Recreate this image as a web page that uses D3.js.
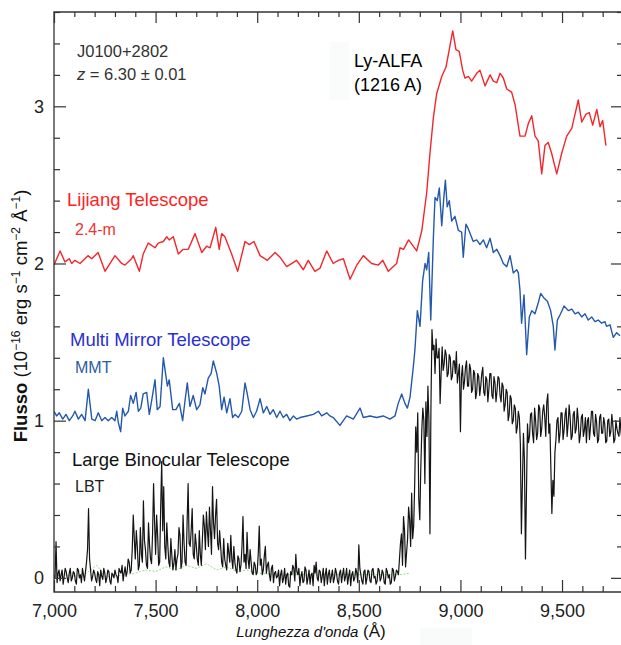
<!DOCTYPE html>
<html>
<head>
<meta charset="utf-8">
<script src="https://cdn.jsdelivr.net/npm/d3@7"></script>
<style>
  html, body { margin: 0; padding: 0; background: #fff; }
  svg { display: block; font-family: "Liberation Sans", Arial, Helvetica, sans-serif; }
</style>
</head>
<body>
<svg id="chart" width="621" height="645"></svg>
<script>
// ---------------- DATA ----------------
const xTickValues = [7000, 7500, 8000, 8500, 9000, 9500];
const xTickLabels = ["7,000", "7,500", "8,000", "8,500", "9,000", "9,500"];
const yTickValues = [0, 1, 2, 3];
const yTickLabels = ["0", "1", "2", "3"];

// Lijiang 2.4-m (red)
const redWave = [7000,7030,7054,7075,7087,7103,7128,7167,7186,7217,7251,7300,7333,7349,7382,7390,7420,7439,7464,7497,
  7513,7538,7555,7567,7587,7612,7636,7661,7694,7727,7751,7768,7796,7813,7825,7841,7874,7904,7940,7961,
  7984,8014,8050,8088,8112,8145,8194,8227,8251,8284,8309,8342,8374,8399,8424,8457,8490,8522,8563,8596,
  8618,8645,8686,8703,8720,8745,8785,8810,8834,8850,8867,8883,8908,8929,8945,8962,8978,8994,9011,9022,
  9039,9055,9080,9096,9121,9146,9162,9179,9195,9211,9228,9252,9269,9293,9318,9334,9351,9367,9383,9400,
  9416,9432,9449,9474,9498,9523,9548,9564,9580,9597,9618,9634,9651,9671,9687,9700,9716];
const redFlux = [1.99,2.08,2.01,2.03,2.00,2.02,2.00,2.05,2.03,2.07,1.95,2.05,2.00,1.99,2.03,2.05,1.95,2.06,2.13,2.10,
  2.13,2.14,2.17,2.15,2.17,2.06,2.09,2.09,2.19,2.07,2.11,2.10,2.23,2.09,2.19,2.17,2.06,1.95,2.14,2.12,
  2.14,2.05,2.02,2.07,2.04,1.98,2.02,1.96,2.02,1.95,1.97,2.08,2.00,2.02,2.03,1.90,1.99,2.05,2.00,1.99,
  2.02,1.95,2.00,2.10,2.09,2.15,2.08,2.21,2.45,2.70,2.93,3.08,3.19,3.25,3.36,3.48,3.36,3.35,3.23,3.18,
  3.19,3.16,3.21,3.23,3.13,3.20,3.16,3.15,3.21,3.18,3.11,3.09,3.01,2.81,2.81,2.89,2.94,2.81,2.78,2.57,
  2.75,2.77,2.70,2.57,2.70,2.81,2.86,2.95,3.04,2.90,2.95,2.96,2.88,2.98,2.87,2.91,2.75];

// MMT (blue)
const blueWave = [7000,7013,7026,7043,7059,7075,7092,7103,7120,7136,7153,7169,7186,7202,7218,7235,7251,7267,7284,7300,
  7309,7316,7328,7338,7349,7366,7377,7390,7404,7415,7427,7439,7456,7469,7481,7497,7508,7522,7538,7558,
  7567,7584,7600,7617,7633,7645,7656,7669,7685,7702,7718,7732,7743,7759,7773,7784,7801,7813,7825,7837,
  7850,7866,7879,7891,7907,7924,7940,7951,7965,7981,7997,8014,8030,8047,8063,8079,8096,8112,8128,8145,
  8161,8178,8194,8211,8244,8276,8301,8317,8342,8358,8374,8407,8440,8473,8506,8522,8555,8588,8620,8653,
  8678,8694,8711,8727,8739,8752,8768,8776,8788,8801,8814,8826,8834,8844,8854,8867,8875,8886,8896,8908,
  8919,8926,8935,8945,8957,8973,8990,9006,9014,9027,9039,9051,9063,9080,9096,9113,9129,9146,9162,9179,
  9195,9211,9228,9244,9260,9277,9285,9293,9301,9313,9326,9339,9351,9367,9383,9395,9411,9428,9444,9457,
  9465,9477,9493,9510,9531,9548,9564,9580,9597,9613,9629,9646,9662,9678,9695,9711,9719,9736,9752,9769,9785];
const blueFlux = [1.06,1.03,1.05,1.01,1.04,1.00,1.03,1.06,1.01,1.04,1.00,1.20,1.01,1.00,1.05,1.00,1.02,1.00,1.02,1.00,
  1.06,0.99,0.93,1.08,1.03,1.06,1.16,1.11,1.18,1.06,1.08,1.17,1.18,1.04,1.13,1.26,1.07,1.09,1.40,1.22,
  1.26,1.07,1.07,1.11,1.00,1.13,1.24,1.09,1.16,1.07,1.10,1.21,1.17,1.27,1.30,1.38,1.30,1.22,1.07,1.15,
  1.05,1.14,1.02,1.04,1.02,1.06,1.24,1.17,1.07,1.02,1.06,1.14,1.05,1.09,1.04,1.07,1.02,1.06,1.02,1.04,
  1.00,1.03,1.01,1.02,1.03,1.04,1.06,1.03,1.05,1.03,1.02,0.97,1.03,1.01,1.08,1.02,1.03,1.02,1.03,1.01,
  1.03,1.11,1.17,1.11,1.08,1.15,1.34,1.45,1.70,1.60,1.89,2.00,1.96,2.07,1.64,2.17,2.42,2.40,2.48,2.24,
  2.43,2.53,2.36,2.40,2.27,2.30,2.21,2.20,2.04,2.25,2.22,2.18,2.14,2.15,2.12,2.15,2.10,2.16,2.07,2.09,
  2.05,2.00,1.98,2.05,1.94,1.96,1.94,1.83,1.62,1.80,1.42,1.66,1.70,1.68,1.75,1.81,1.78,1.76,1.70,1.60,
  1.45,1.64,1.68,1.73,1.70,1.71,1.68,1.69,1.66,1.68,1.64,1.66,1.63,1.64,1.62,1.63,1.60,1.61,1.53,1.56,1.54];

// LBT (black): samples at 7000 + 10*i Å and at 7005 + 10*i Å
const blackStart = 7000;
const blackStep = 10;
const blackFlux = [
  0.02,0.23,0.03,-0.02,0.05,0.01,0.04,-0.03,0.06,0.00,
  0.03,-0.04,0.05,0.02,0.06,-0.02,0.10,0.44,0.05,0.01,
  0.03,-0.03,0.02,0.05,-0.01,0.03,0.00,0.04,-0.04,0.02,
  0.05,0.01,0.06,0.03,-0.02,0.07,0.04,0.10,0.05,0.40,
  0.12,0.20,0.08,0.15,0.49,0.18,0.06,0.21,0.09,0.60,
  0.15,0.27,0.10,0.74,0.58,0.12,0.21,0.07,0.14,0.09,
  0.05,0.15,0.27,0.10,0.22,0.08,0.60,0.20,0.44,0.12,
  0.21,0.08,0.15,0.24,0.33,0.42,0.20,0.30,0.58,0.25,
  0.50,0.18,0.20,0.07,0.12,0.05,0.16,0.27,0.06,0.10,
  0.03,0.12,0.08,0.39,0.15,0.29,0.06,0.10,0.02,0.08,
  0.04,0.33,0.12,0.05,0.20,0.08,0.02,0.06,-0.03,0.04,
  0.01,-0.05,0.05,0.00,-0.04,0.03,-0.06,0.02,0.06,0.15,
  0.02,-0.05,0.04,-0.02,0.05,0.00,-0.04,0.03,0.08,0.10,
  -0.02,0.04,0.01,-0.05,0.06,0.02,-0.03,0.05,0.00,0.03,
  -0.04,0.05,0.02,-0.02,0.06,0.01,-0.05,0.04,0.00,0.03,
  0.21,0.02,-0.04,0.05,0.00,0.04,-0.03,0.06,0.01,-0.02,
  0.05,0.00,0.03,-0.04,0.04,0.02,-0.03,0.05,0.01,0.04,
  0.12,0.28,0.39,0.07,0.25,0.37,0.54,0.33,0.96,1.05,
  0.37,0.94,1.00,1.12,1.22,0.28,1.58,1.48,1.52,1.40,
  1.11,1.47,1.36,1.42,1.30,1.40,1.28,1.38,1.44,1.30,
  0.93,1.35,1.25,1.38,1.22,1.33,1.20,1.30,1.18,1.28,
  1.22,1.34,1.16,1.26,1.20,1.30,1.14,1.24,1.19,1.27,
  1.12,1.22,1.10,1.18,1.04,1.14,1.00,1.08,0.96,1.02,
  0.28,0.92,0.12,0.98,0.90,1.05,0.86,1.00,0.92,1.08,
  0.95,1.10,0.90,1.17,0.98,0.41,0.52,0.88,1.02,0.92,
  1.05,0.94,1.08,0.98,1.02,0.90,1.06,0.95,1.00,0.91,
  1.04,0.94,0.86,1.02,0.96,1.06,0.90,0.99,0.88,1.04,
  0.92,0.98,0.87,1.01,0.93,0.97,0.88,0.95,0.90,0.93];
const blackMidFlux = [
  0.00,-0.03,0.05,0.02,-0.04,0.06,0.00,0.03,-0.02,0.04,
  -0.02,0.06,0.00,-0.03,0.02,0.04,0.18,0.12,-0.02,0.05,
  -0.01,0.04,-0.05,0.01,0.06,-0.03,0.05,-0.02,0.03,0.00,
  0.02,-0.03,0.04,0.08,0.03,0.01,0.12,0.03,0.18,0.25,
  0.30,0.05,0.32,0.10,0.24,0.08,0.35,0.12,0.28,0.35,
  0.40,0.08,0.45,0.30,0.20,0.35,0.10,0.25,0.05,0.18,
  0.12,0.32,0.06,0.40,0.10,0.35,0.22,0.30,0.15,0.28,
  0.12,0.30,0.08,0.40,0.18,0.30,0.45,0.15,0.35,0.40,
  0.22,0.30,0.10,0.25,0.08,0.22,0.10,0.12,0.20,0.05,
  0.14,0.04,0.20,0.10,0.06,0.12,0.18,0.03,0.10,0.02,
  0.15,0.08,0.02,0.14,0.03,0.10,-0.02,0.08,0.03,0.00,
  0.05,0.02,-0.03,0.06,0.02,-0.05,0.04,0.08,-0.02,0.04,
  0.06,0.01,-0.03,0.07,-0.04,0.05,0.02,-0.05,0.03,0.00,
  0.05,-0.03,0.06,0.02,-0.04,0.05,0.01,-0.03,0.06,-0.02,
  0.03,-0.03,0.06,0.01,-0.04,0.05,0.02,-0.02,0.06,-0.03,
  0.06,-0.02,0.04,-0.04,0.05,-0.02,0.05,0.00,-0.04,0.06,
  -0.02,0.05,-0.03,0.06,0.00,-0.04,0.06,-0.02,0.05,0.02,
  0.22,0.08,0.30,0.16,0.45,0.20,0.25,0.60,0.80,0.50,
  0.70,1.08,0.60,0.90,1.00,1.10,1.45,1.30,1.40,1.46,
  1.30,1.32,1.45,1.28,1.42,1.26,1.38,1.30,1.24,1.36,
  1.28,1.20,1.34,1.22,1.36,1.18,1.32,1.14,1.30,1.16,
  1.30,1.18,1.28,1.12,1.30,1.16,1.28,1.12,1.28,1.16,
  1.24,1.06,1.20,1.00,1.16,0.98,1.10,0.92,1.06,0.85,
  0.60,0.75,0.55,0.86,1.04,0.92,1.08,0.88,1.10,0.90,
  1.06,1.02,1.12,0.92,0.70,0.62,0.80,1.00,0.86,1.05,
  0.88,1.04,0.90,1.10,0.88,1.04,0.92,1.08,0.86,1.02,
  0.90,1.02,1.00,0.88,1.06,0.92,1.04,0.86,1.02,0.92,
  1.02,0.86,1.00,0.90,1.04,0.86,1.00,0.92,1.02,0.88];

// LBT error spectrum (green)
const greenWave = [7000,7050,7100,7150,7210,7250,7300,7350,7400,7450,7500,7550,7600,7650,7700,7750,7800,7850,7900,7950,8000,8100,8200,8300,8400,8500,8600,8700,8750];
const greenFlux = [0.01,0.02,0.01,0.02,0.08,0.01,0.01,0.02,0.03,0.05,0.04,0.07,0.05,0.08,0.06,0.09,0.05,0.07,0.04,0.05,0.03,0.02,0.02,0.02,0.02,0.02,0.02,0.02,0.03];

// ---------------- DRAW ----------------
const svg = d3.select("#chart");
const x = d3.scaleLinear().domain([7000, 9800]).range([54, 623]);
const y = d3.scaleLinear().domain([-0.09, 3.6]).range([592, 12]);

// barely visible background patches present in the source image
svg.append("rect").attr("x", 330).attr("y", 42).attr("width", 19).attr("height", 58).attr("fill", "#fafbfb");
svg.append("rect").attr("x", 420).attr("y", 628).attr("width", 52).attr("height", 17).attr("fill", "#f9fafa");

svg.append("clipPath").attr("id", "plotclip").append("rect")
  .attr("x", 54).attr("y", 12).attr("width", 569).attr("height", 580);

const line = d3.line().x(d => x(d[0])).y(d => y(d[1]));
const plot = svg.append("g").attr("clip-path", "url(#plotclip)");

plot.append("path")
  .datum(greenWave.map((w, i) => [w, greenFlux[i]]))
  .attr("d", line).attr("fill", "none").attr("stroke", "#7dd36a")
  .attr("stroke-width", 1).attr("stroke-dasharray", "2,1.5").attr("opacity", 0.8);

const blackPts = [];
blackFlux.forEach((v, i) => {
  blackPts.push([blackStart + i * blackStep, v]);
  if (i < blackMidFlux.length) blackPts.push([blackStart + i * blackStep + blackStep / 2, blackMidFlux[i]]);
});
plot.append("path")
  .datum(blackPts)
  .attr("d", line).attr("fill", "none").attr("stroke", "#141414")
  .attr("stroke-width", 1.2).attr("stroke-linejoin", "round");

plot.append("path")
  .datum(blueWave.map((w, i) => [w, blueFlux[i]]))
  .attr("d", line).attr("fill", "none").attr("stroke", "#2458ad")
  .attr("stroke-width", 1.4).attr("stroke-linejoin", "round");

plot.append("path")
  .datum(redWave.map((w, i) => [w, redFlux[i]]))
  .attr("d", line).attr("fill", "none").attr("stroke", "#f2262b")
  .attr("stroke-width", 1.4).attr("stroke-linejoin", "round");

// axes (ticks pointing inward)
const axisColor = "#333";
const xMinor = d3.range(7000, 9801, 100).filter(v => v % 500 !== 0);
const yMinor = d3.range(0, 3.61, 0.2).map(v => +v.toFixed(1)).filter(v => Math.abs(v - Math.round(v)) > 1e-6);

function styleAxis(g) {
  g.select(".domain").remove();
  g.selectAll("line").attr("stroke", axisColor).attr("stroke-width", 1.2);
  g.selectAll("text").attr("fill", "#222").style("font-size", "18px")
    .style("font-family", '"Liberation Sans", Arial, Helvetica, sans-serif');
}

// bottom
svg.append("g").attr("transform", "translate(0,592)")
  .call(d3.axisBottom(x).tickValues(xTickValues).tickSize(-12).tickPadding(12)
    .tickFormat((d, i) => xTickLabels[i])).call(styleAxis);
svg.append("g").attr("transform", "translate(0,592)")
  .call(d3.axisBottom(x).tickValues(xMinor).tickSize(-6).tickFormat("")).call(styleAxis);
// top
svg.append("g").attr("transform", "translate(0,12)")
  .call(d3.axisTop(x).tickValues(xTickValues).tickSize(-11).tickFormat("")).call(styleAxis);
svg.append("g").attr("transform", "translate(0,12)")
  .call(d3.axisTop(x).tickValues(xMinor).tickSize(-5).tickFormat("")).call(styleAxis);
// left
svg.append("g").attr("transform", "translate(54,0)")
  .call(d3.axisLeft(y).tickValues(yTickValues).tickSize(-12).tickPadding(10)
    .tickFormat((d, i) => yTickLabels[i])).call(styleAxis);
svg.append("g").attr("transform", "translate(54,0)")
  .call(d3.axisLeft(y).tickValues(yMinor).tickSize(-6).tickFormat("")).call(styleAxis);
// right
svg.append("g").attr("transform", "translate(623,0)")
  .call(d3.axisRight(y).tickValues(yTickValues).tickSize(-12).tickFormat("")).call(styleAxis);
svg.append("g").attr("transform", "translate(623,0)")
  .call(d3.axisRight(y).tickValues(yMinor).tickSize(-6).tickFormat("")).call(styleAxis);

// frame
svg.append("path")
  .attr("d", `M${x(9800)},${y(3.6)}H${x(7000)}V${y(-0.09)}H${x(9800)}`)
  .attr("fill", "none").attr("stroke", axisColor).attr("stroke-width", 1.3);

// annotations
function txt(xp, yp, s, size, color) {
  return svg.append("text").attr("x", xp).attr("y", yp).attr("fill", color)
    .style("font-size", size + "px").text(s);
}
txt(77, 57, "J0100+2802", 16.5, "#333");
const zt = svg.append("text").attr("x", 77).attr("y", 80).attr("fill", "#333").style("font-size", "16.5px");
zt.append("tspan").style("font-style", "italic").text("z");
zt.append("tspan").text(" = 6.30 ± 0.01");

txt(354, 67, "Ly-ALFA", 18, "#000");
txt(354, 91, "(1216 A)", 18, "#000");

txt(67, 206, "Lijiang Telescope", 18.5, "#ff1f1f");
txt(75, 235, "2.4-m", 16, "#f0332f");
txt(70, 346, "Multi Mirror Telescope", 18.5, "#2a2fd2");
txt(75, 373, "MMT", 16, "#2c5ca6");
txt(72, 466, "Large Binocular Telescope", 18.5, "#111");
txt(75, 492, "LBT", 16, "#222");

// axis titles
const xt = svg.append("text").attr("x", 311).attr("y", 637).attr("text-anchor", "middle").attr("fill", "#111");
xt.append("tspan").style("font-style", "italic").style("font-size", "15px").text("Lunghezza d'onda");
xt.append("tspan").style("font-size", "17px").text(" (Å)");

const yt = svg.append("text").attr("transform", "translate(27,316) rotate(-90)")
  .attr("text-anchor", "middle").attr("fill", "#111").style("font-size", "18.5px");
yt.append("tspan").style("font-weight", "bold").text("Flusso");
yt.append("tspan").text(" (10");
yt.append("tspan").attr("dy", -7).style("font-size", "12px").text("−16");
yt.append("tspan").attr("dy", 7).text(" erg s");
yt.append("tspan").attr("dy", -7).style("font-size", "12px").text("−1");
yt.append("tspan").attr("dy", 7).text(" cm");
yt.append("tspan").attr("dy", -7).style("font-size", "12px").text("−2");
yt.append("tspan").attr("dy", 7).text(" Å");
yt.append("tspan").attr("dy", -7).style("font-size", "12px").text("−1");
yt.append("tspan").attr("dy", 7).text(")");
</script>
</body>
</html>
